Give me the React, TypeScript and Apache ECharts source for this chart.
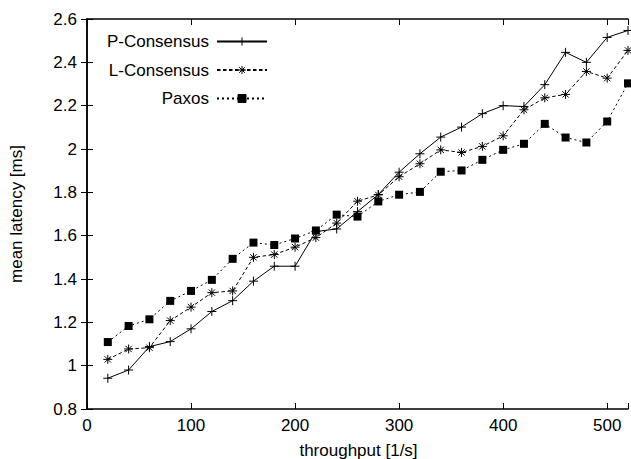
import React, { useEffect, useRef } from "react";
import * as echarts from "echarts";

const throughput = [20, 40, 60, 80, 100, 120, 140, 160, 180, 200, 220, 240, 260, 280, 300, 320, 340, 360, 380, 400, 420, 440, 460, 480, 500, 520];
const pConsensus = [0.942, 0.98, 1.088, 1.111, 1.17, 1.25, 1.3, 1.39, 1.459, 1.459, 1.619, 1.631, 1.711, 1.79, 1.893, 1.978, 2.055, 2.101, 2.163, 2.2, 2.196, 2.297, 2.446, 2.4, 2.515, 2.547];
const lConsensus = [1.029, 1.077, 1.083, 1.208, 1.27, 1.337, 1.345, 1.5, 1.513, 1.547, 1.591, 1.658, 1.759, 1.788, 1.872, 1.932, 1.996, 1.984, 2.012, 2.061, 2.181, 2.236, 2.252, 2.358, 2.327, 2.455];
const paxos = [1.109, 1.183, 1.214, 1.299, 1.345, 1.396, 1.493, 1.568, 1.557, 1.587, 1.624, 1.697, 1.688, 1.758, 1.789, 1.802, 1.895, 1.901, 1.95, 1.996, 2.024, 2.116, 2.053, 2.03, 2.127, 2.303];
const seriesNames = ["P-Consensus", "L-Consensus", "Paxos"];
const xTitle = "throughput [1/s]";
const yTitle = "mean latency [ms]";

const FONT = "'Liberation Sans', Arial, sans-serif";
const PLUS = "path://M0,5L10,5M5,0L5,10";
const STAR = "path://M0,5L10,5M5,0L5,10M1.5,1.5L8.5,8.5M1.5,8.5L8.5,1.5";

export default function App() {
  const ref = useRef<HTMLDivElement>(null);
  useEffect(() => {
    document.body.style.margin = "0";
    const chart = echarts.init(ref.current!, undefined, { renderer: "svg" });
    const pair = (ys: number[]) => throughput.map((x, i) => [x, ys[i]]);
    const tickCommon = { show: true, inside: true, length: 6, lineStyle: { color: "#000", width: 1 } };
    const axisLine = { show: true, lineStyle: { color: "#000", width: 1.5 } };
    const legendBase = {
      orient: "vertical",
      align: "right",
      right: 631 - 268,
      itemWidth: 50,
      itemHeight: 10,
      padding: 0,
      textStyle: { fontFamily: FONT, fontSize: 17, color: "#000", padding: [0, 3, 0, 0] },
      itemStyle: { borderWidth: 1 },
      selectedMode: false,
    };
    chart.setOption({
      animation: false,
      backgroundColor: "#fff",
      grid: { left: 87, right: 1, top: 19, bottom: 50 },
      legend: [
        { ...legendBase, top: 33, data: [seriesNames[0]] },
        { ...legendBase, top: 61.5, data: [seriesNames[1]] },
        { ...legendBase, top: 90, data: [seriesNames[2]] },
      ],
      xAxis: [
        {
          type: "value", min: 0, max: 520, interval: 100, position: "bottom",
          axisLine, axisTick: tickCommon, splitLine: { show: false },
          axisLabel: {
            fontFamily: FONT, fontSize: 17, color: "#000", margin: 8,
            formatter: (v: number) => (v % 100 === 0 ? String(v) : ""),
          },
        },
        {
          type: "value", min: 0, max: 520, interval: 100, position: "top",
          axisLine, axisTick: tickCommon, splitLine: { show: false }, axisLabel: { show: false },
        },
      ],
      yAxis: [
        {
          type: "value", min: 0.8, max: 2.6, interval: 0.2, position: "left",
          axisLine, axisTick: tickCommon, splitLine: { show: false },
          axisLabel: {
            fontFamily: FONT, fontSize: 17, color: "#000", margin: 10,
            formatter: (v: number) => String(Math.round(v * 10) / 10),
          },
        },
        {
          type: "value", min: 0.8, max: 2.6, interval: 0.2, position: "right",
          axisLine, axisTick: tickCommon, splitLine: { show: false }, axisLabel: { show: false },
        },
      ],
      graphic: [
        {
          type: "text", x: 358.5, y: 450,
          style: { text: xTitle, font: `17px ${FONT}`, fill: "#000", textAlign: "center", textVerticalAlign: "middle" },
        },
        {
          type: "text", x: 16, y: 214, rotation: Math.PI / 2,
          style: { text: yTitle, font: `17px ${FONT}`, fill: "#000", textAlign: "center", textVerticalAlign: "middle" },
        },
      ],
      series: [
        {
          name: seriesNames[0], type: "line", data: pair(pConsensus),
          symbol: PLUS, symbolSize: 9,
          lineStyle: { color: "#000", width: 1, type: "solid" },
          itemStyle: { color: "#000", borderColor: "#000", borderWidth: 1 },
        },
        {
          name: seriesNames[1], type: "line", data: pair(lConsensus),
          symbol: STAR, symbolSize: 9,
          lineStyle: { color: "#000", width: 1, type: [3.5, 2.5] },
          itemStyle: { color: "#000", borderColor: "#000", borderWidth: 1 },
        },
        {
          name: seriesNames[2], type: "line", data: pair(paxos),
          symbol: "rect", symbolSize: 8,
          lineStyle: { color: "#000", width: 1, type: [2, 3] },
          itemStyle: { color: "#000", borderColor: "#000", borderWidth: 0 },
        },
      ],
    });
    return () => chart.dispose();
  }, []);
  return <div ref={ref} style={{ width: 631, height: 459 }} />;
}
